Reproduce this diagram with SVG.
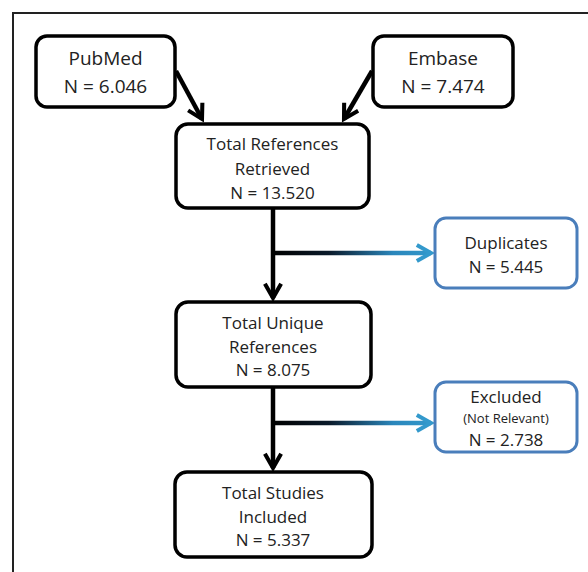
<svg xmlns="http://www.w3.org/2000/svg" width="588" height="572" viewBox="0 0 588 572">
<style>
.box{fill:#fff;stroke:#000;stroke-width:3.5}
.bbox{fill:#fff;stroke:#4a7ebb;stroke-width:3}
text{font-family:"Open Sans","Liberation Sans",sans-serif;font-size:17px;fill:#222;text-anchor:middle}
.lg{font-size:19px}
.sm{font-size:13px}
.ln{fill:none;stroke:#000;stroke-width:4.5}
.br{fill:none;stroke:url(#g);stroke-width:4.5}
</style>
<defs>
<linearGradient id="g" gradientUnits="userSpaceOnUse" x1="273" y1="0" x2="433" y2="0">
<stop offset="0" stop-color="#000"/>
<stop offset="0.35" stop-color="#0a1a2a"/>
<stop offset="0.75" stop-color="#2a86bb"/>
<stop offset="1" stop-color="#3399cc"/>
</linearGradient>
<marker id="ah" viewBox="0 0 10 10" refX="8" refY="5" markerWidth="4.5" markerHeight="4.5" orient="auto" markerUnits="strokeWidth">
<path d="M1,1 L8,5 L1,9" fill="none" stroke="#000" stroke-width="2"/>
</marker>
<marker id="ahb" viewBox="0 0 10 10" refX="8" refY="5" markerWidth="4.5" markerHeight="4.5" orient="auto" markerUnits="strokeWidth">
<path d="M1,1 L8,5 L1,9" fill="none" stroke="#3399cc" stroke-width="2"/>
</marker>
</defs>
<rect width="588" height="572" fill="#fff"/>
<path d="M13,572 V13 H588" fill="none" stroke="#222" stroke-width="2"/>
<g id="connectors">
<path class="ln" d="M176,71 L202,119" marker-end="url(#ah)"/>
<path class="ln" d="M372,71 L344,119" marker-end="url(#ah)"/>
<path class="ln" d="M273,208 V298" marker-end="url(#ah)"/>
<path class="br" d="M273,253 H431" marker-end="url(#ahb)"/>
<path class="ln" d="M273,387 V468" marker-end="url(#ah)"/>
<path class="br" d="M273,423 H431" marker-end="url(#ahb)"/>
</g>
<g id="pubmed">
<rect class="box" x="36" y="36" width="139" height="71" rx="11"/>
<text class="lg" x="105.5" y="65">PubMed</text>
<text class="lg" x="105.5" y="93">N = 6.046</text>
</g>
<g id="embase">
<rect class="box" x="373" y="36" width="140" height="71" rx="11"/>
<text class="lg" x="443" y="65">Embase</text>
<text class="lg" x="443" y="93">N = 7.474</text>
</g>
<g id="retrieved">
<rect class="box" x="176" y="124" width="193" height="84" rx="12"/>
<text x="272.5" y="150">Total References</text>
<text x="272.5" y="175">Retrieved</text>
<text x="272.5" y="199">N = 13.520</text>
</g>
<g id="duplicates">
<rect class="bbox" x="435" y="218" width="142" height="70" rx="11"/>
<text x="506" y="249">Duplicates</text>
<text x="506" y="273">N = 5.445</text>
</g>
<g id="unique">
<rect class="box" x="176" y="302" width="195" height="85" rx="12"/>
<text x="273" y="329">Total Unique</text>
<text x="273" y="353">References</text>
<text x="273" y="376">N = 8.075</text>
</g>
<g id="excluded">
<rect class="bbox" x="435" y="382" width="142" height="70" rx="11"/>
<text x="506" y="403">Excluded</text>
<text class="sm" x="506" y="423">(Not Relevant)</text>
<text x="506" y="446">N = 2.738</text>
</g>
<g id="included">
<rect class="box" x="175" y="472" width="197" height="85" rx="12"/>
<text x="273" y="499">Total Studies</text>
<text x="273" y="523">Included</text>
<text x="273" y="546">N = 5.337</text>
</g>
</svg>
